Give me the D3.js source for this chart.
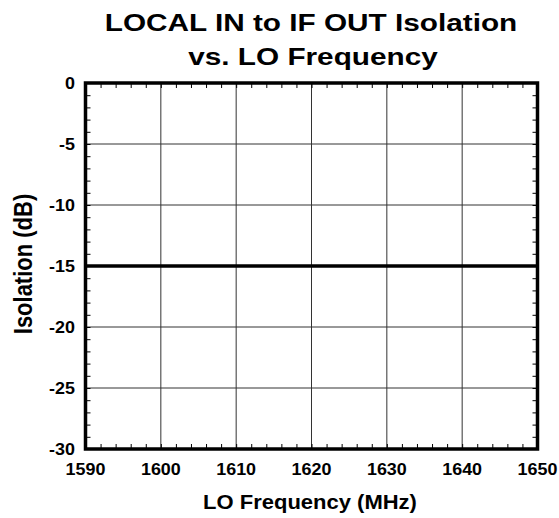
<!DOCTYPE html>
<html>
<head>
<meta charset="utf-8">
<script src="https://cdn.jsdelivr.net/npm/d3@7"></script>
<style>
  html, body { margin: 0; padding: 0; background: #fff; }
  svg { display: block; }
  text { font-family: "Liberation Sans", Arial, Helvetica, sans-serif; font-weight: bold; fill: #000; }
</style>
</head>
<body>
<svg id="chart" width="559" height="518"></svg>
<script>
// LO frequency sweep (MHz) and measured LOCAL IN -> IF OUT isolation (dB)
const loFrequency = [1590, 1600, 1610, 1620, 1630, 1640, 1650];
const isolation   = [-15, -15, -15, -15, -15, -15, -15];

// Axis tick labels
const xTickValues = [1590, 1600, 1610, 1620, 1630, 1640, 1650];
const yTickValues = [0, -5, -10, -15, -20, -25, -30];

const titleLines = ["LOCAL IN to IF OUT Isolation", "vs. LO Frequency"];
const xAxisTitle = "LO Frequency (MHz)";
const yAxisTitle = "Isolation (dB)";

const svg = d3.select("#chart");
const plot = { left: 85.5, right: 537.5, top: 83, bottom: 449 };

const x = d3.scaleLinear().domain([1590, 1650]).range([plot.left, plot.right]);
const y = d3.scaleLinear().domain([-30, 0]).range([plot.bottom, plot.top]);

// Grid lines at the labelled values
const grid = svg.append("g");
grid.selectAll("line.vx").data(xTickValues.slice(1, -1)).join("line")
  .attr("x1", d => x(d)).attr("x2", d => x(d))
  .attr("y1", plot.top).attr("y2", plot.bottom)
  .attr("stroke", "#333").attr("stroke-width", 1);
grid.selectAll("line.hy").data(yTickValues.slice(1, -1)).join("line")
  .attr("x1", plot.left).attr("x2", plot.right)
  .attr("y1", d => y(d)).attr("y2", d => y(d))
  .attr("stroke", "#333").attr("stroke-width", 1);

// Minor ticks pointing into the plot on all four sides
const tickLen = 5;
const minorX = d3.range(1592, 1650, 2);
const minorY = d3.range(-29, 0, 1);
const axBottom = d3.axisBottom(x).tickValues(minorX).tickSizeInner(-tickLen).tickSizeOuter(0).tickFormat("");
const axTop = d3.axisTop(x).tickValues(minorX).tickSizeInner(-tickLen).tickSizeOuter(0).tickFormat("");
const axLeft = d3.axisLeft(y).tickValues(minorY).tickSizeInner(-tickLen).tickSizeOuter(0).tickFormat("");
const axRight = d3.axisRight(y).tickValues(minorY).tickSizeInner(-tickLen).tickSizeOuter(0).tickFormat("");
[[axBottom, `translate(0,${plot.bottom})`], [axTop, `translate(0,${plot.top})`],
 [axLeft, `translate(${plot.left},0)`], [axRight, `translate(${plot.right},0)`]]
  .forEach(([ax, tr]) => {
    const g = svg.append("g").attr("transform", tr).call(ax);
    g.select(".domain").remove();
    g.selectAll("line").attr("stroke", "#000").attr("stroke-width", 1);
  });

// Data trace
const line = d3.line().x((d, i) => x(loFrequency[i])).y(d => y(d));
svg.append("path").datum(isolation)
  .attr("d", line).attr("fill", "none")
  .attr("stroke", "#000").attr("stroke-width", 3.5);

// Plot frame
svg.append("rect")
  .attr("x", plot.left).attr("y", plot.top)
  .attr("width", plot.right - plot.left).attr("height", plot.bottom - plot.top)
  .attr("fill", "none").attr("stroke", "#000").attr("stroke-width", 3.5);

// Tick labels
svg.append("g").selectAll("text").data(xTickValues).join("text")
  .attr("transform", d => `translate(${x(d)},475) scale(1.12,1)`)
  .attr("text-anchor", "middle").attr("font-size", 16)
  .text(d => d);
svg.append("g").selectAll("text").data(yTickValues).join("text")
  .attr("transform", d => `translate(75,${y(d)}) scale(1.12,1)`)
  .attr("text-anchor", "end").attr("dy", "0.36em").attr("font-size", 16)
  .text(d => d);

// Titles
svg.append("text").attr("transform", "translate(311,31) scale(1.24,1)")
  .attr("text-anchor", "middle").attr("font-size", 24).text(titleLines[0]);
svg.append("text").attr("transform", "translate(313,65) scale(1.24,1)")
  .attr("text-anchor", "middle").attr("font-size", 24).text(titleLines[1]);
svg.append("text").attr("transform", "translate(310,509) scale(1.1,1)")
  .attr("text-anchor", "middle").attr("font-size", 20).text(xAxisTitle);
svg.append("text").attr("transform", "translate(32,264) rotate(-90) scale(1,1.2)")
  .attr("text-anchor", "middle").attr("font-size", 22).text(yAxisTitle);
</script>
</body>
</html>
